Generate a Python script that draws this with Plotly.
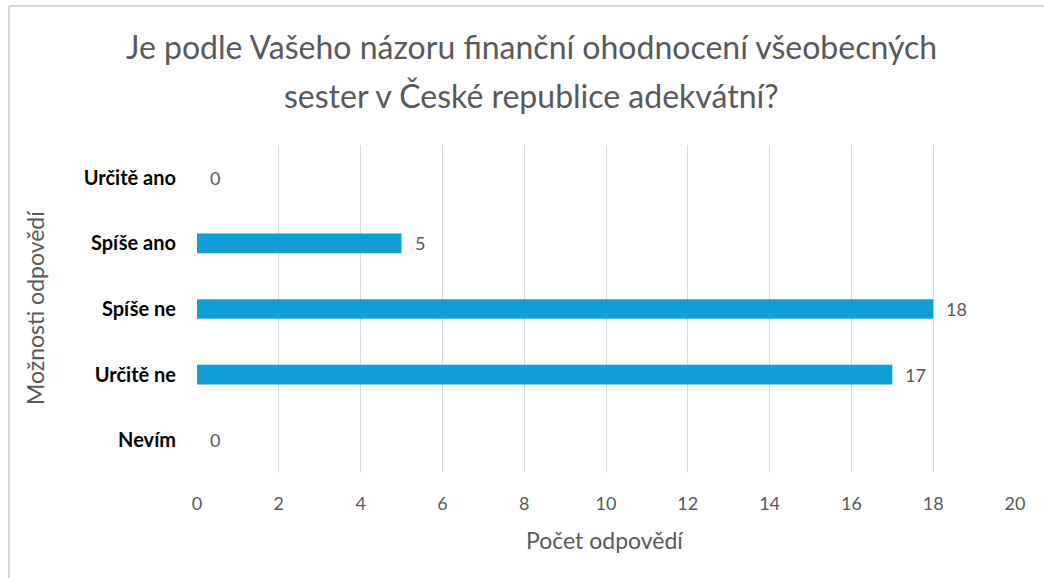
import plotly.graph_objects as go

categories = ["Určitě ano", "Spíše ano", "Spíše ne", "Určitě ne", "Nevím"]
values = [0, 5, 18, 17, 0]
x_ticks = [0, 2, 4, 6, 8, 10, 12, 14, 16, 18, 20]
title_lines = ["Je podle Vašeho názoru finanční ohodnocení všeobecných",
               "sester v České republice adekvátní?"]
x_title = "Počet odpovědí"
y_title = "Možnosti odpovědí"

W, H = 1044, 578
ML, MR, MT, MB = 197, 29, 145, 105
PW, PH = W - ML - MR, H - MT - MB
FONT = "Lato"
GRAY = "#595959"

def px_x(x): return (x - ML) / PW
def px_y(y): return 1 + (MT - y) / PH

fig = go.Figure()
fig.add_trace(go.Bar(
    y=categories, x=values, orientation="h",
    marker=dict(color="#0F9ED5", line=dict(width=0)),
    hoverinfo="skip",
))

for c, v in zip(categories, values):
    fig.add_annotation(x=v, y=c, xref="x", yref="y", text=str(v),
                       showarrow=False, xanchor="left", xshift=11,
                       font=dict(family=FONT, size=18, color=GRAY))

for line, ypx in zip(title_lines, [47, 95]):
    fig.add_annotation(x=px_x(531), y=px_y(ypx), xref="paper", yref="paper",
                       text=line, showarrow=False, xanchor="center", yanchor="middle",
                       font=dict(family=FONT, size=32, color=GRAY))

fig.add_annotation(x=px_x(605), y=px_y(540), xref="paper", yref="paper",
                   text=x_title, showarrow=False, xanchor="center", yanchor="middle",
                   font=dict(family=FONT, size=23, color=GRAY))
fig.add_annotation(x=px_x(35), y=px_y(308), xref="paper", yref="paper",
                   text=y_title, showarrow=False, xanchor="center", yanchor="middle",
                   textangle=-90,
                   font=dict(family=FONT, size=23, color=GRAY))

# frame lines (top and left)
fig.add_shape(type="line", xref="paper", yref="paper",
              x0=px_x(9), x1=px_x(1044), y0=px_y(6), y1=px_y(6),
              line=dict(color="#d9d9d9", width=2))
fig.add_shape(type="line", xref="paper", yref="paper",
              x0=px_x(9), x1=px_x(9), y0=px_y(6), y1=px_y(578),
              line=dict(color="#d9d9d9", width=2))

fig.update_layout(
    width=W, height=H,
    margin=dict(l=ML, r=MR, t=MT, b=MB),
    paper_bgcolor="white", plot_bgcolor="white",
    bargap=0.7, showlegend=False,
    font=dict(family=FONT, color=GRAY),
    xaxis=dict(range=[0, 20], tickvals=x_ticks, showgrid=True,
               gridcolor="#d9d9d9", gridwidth=1, zeroline=False,
               showline=False, ticks="", ticklabelstandoff=18,
               tickfont=dict(family=FONT, size=18, color=GRAY)),
    yaxis=dict(categoryorder="array", categoryarray=categories,
               autorange="reversed", showgrid=False, zeroline=False,
               showline=False, ticks="", ticklabelstandoff=20,
               tickfont=dict(family=FONT, size=20, color="black", weight="bold")),
)

fig.write_html("out.html",
               config={"displayModeBar": False},
               post_script="document.body.style.margin='0';document.body.style.overflow='hidden';")
